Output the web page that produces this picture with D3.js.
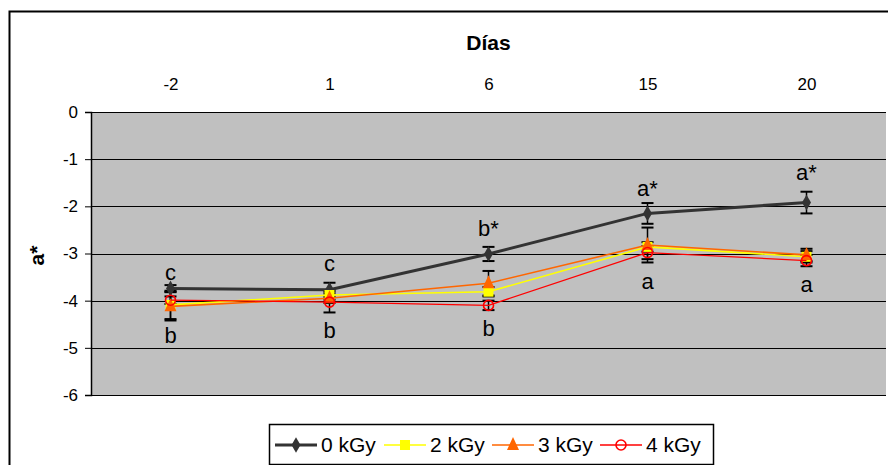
<!DOCTYPE html>
<html>
<head>
<meta charset="utf-8">
<script src="https://cdn.jsdelivr.net/npm/d3@7"></script>
<style>
  body { margin: 0; background: #fff; }
  svg { font-family: "Liberation Sans", Arial, sans-serif; }
</style>
</head>
<body>
<div id="chart"></div>
<script>
// Datos
const days = ["-2", "1", "6", "15", "20"];
const kGy0 = [-3.74, -3.77, -3.01, -2.15, -1.92];
const kGy2 = [-4.09, -3.88, -3.81, -2.86, -3.07];
const kGy3 = [-4.12, -3.95, -3.63, -2.82, -3.03];
const kGy4 = [-3.99, -4.03, -4.10, -2.98, -3.15];
const err0 = [0.07, 0.15, 0.15, 0.22, 0.23];
const err2 = [0.30, 0.10, 0.10, 0.10, 0.12];
const err3 = [0.30, 0.10, 0.26, 0.37, 0.13];
const err4 = [0.08, 0.22, 0.10, 0.14, 0.12];
const upperLetters = ["c", "c", "b*", "a*", "a*"];
const upperLetterY = [-3.56, -3.37, -2.63, -1.78, -1.44];
const lowerLetters = ["b", "b", "b", "a", "a"];
const lowerLetterY = [-4.89, -4.79, -4.75, -3.75, -3.81];
const yTicks = [0, -1, -2, -3, -4, -5, -6];

const series = [
  { name: "0 kGy", values: kGy0, err: err0, color: "#333333", width: 3, marker: "diamond" },
  { name: "2 kGy", values: kGy2, err: err2, color: "#ffff00", width: 1.6, marker: "square" },
  { name: "3 kGy", values: kGy3, err: err3, color: "#ff6600", width: 1.6, marker: "triangle" },
  { name: "4 kGy", values: kGy4, err: err4, color: "#ff0000", width: 1.3, marker: "circle" }
];

const W = 888, H = 465;
const plot = { left: 91, right: 886, top: 112, bottom: 395 };

const svg = d3.select("#chart").append("svg")
  .attr("width", W).attr("height", H);

// marco exterior
svg.append("rect")
  .attr("x", 9.5).attr("y", 11.5)
  .attr("width", W).attr("height", H)
  .attr("fill", "#fff").attr("stroke", "#000").attr("stroke-width", 2);

const x = d3.scalePoint().domain(days).range([plot.left, plot.right]).padding(0.5);
const y = d3.scaleLinear().domain([-6, 0]).range([plot.bottom, plot.top]);

// área de trazado
svg.append("rect")
  .attr("x", plot.left).attr("y", plot.top)
  .attr("width", plot.right - plot.left).attr("height", plot.bottom - plot.top)
  .attr("fill", "#c0c0c0");

// líneas de cuadrícula
svg.append("g")
  .selectAll("line")
  .data(yTicks)
  .join("line")
  .attr("x1", plot.left).attr("x2", plot.right)
  .attr("y1", d => Math.round(y(d)) + 0.5).attr("y2", d => Math.round(y(d)) + 0.5)
  .attr("stroke", "#000").attr("stroke-width", 1);

// eje Y
const yAxis = svg.append("g")
  .attr("transform", `translate(${plot.left},0)`)
  .call(d3.axisLeft(y).tickValues(yTicks).tickSize(6).tickPadding(7).tickFormat(d => String(d)));
yAxis.select(".domain").attr("stroke", "#000").attr("stroke-width", 1.5);
yAxis.selectAll("text").attr("font-size", 17).attr("fill", "#000")
  .attr("font-family", "Liberation Sans, Arial, sans-serif");

// eje X arriba (solo etiquetas)
const xAxis = svg.append("g")
  .attr("transform", `translate(0,${plot.top})`)
  .call(d3.axisTop(x).tickSize(0).tickPadding(22));
xAxis.select(".domain").remove();
xAxis.selectAll("text").attr("font-size", 17).attr("fill", "#000")
  .attr("font-family", "Liberation Sans, Arial, sans-serif");

// títulos
svg.append("text")
  .attr("x", (plot.left + plot.right) / 2).attr("y", 50)
  .attr("text-anchor", "middle").attr("font-size", 21).attr("font-weight", "bold")
  .text("Días");

svg.append("text")
  .attr("transform", `translate(44,${(plot.top + plot.bottom) / 2 + 2}) rotate(-90)`)
  .attr("text-anchor", "middle").attr("font-size", 21).attr("font-weight", "bold")
  .text("a*");

// barras de error
const capW = 6;
series.forEach(s => {
  const g = svg.append("g").attr("class", "errbars");
  s.values.forEach((v, i) => {
    const cx = x(days[i]);
    const y1 = y(v + s.err[i]), y2 = y(v - s.err[i]);
    g.append("line").attr("x1", cx).attr("x2", cx).attr("y1", y1).attr("y2", y2)
      .attr("stroke", "#000").attr("stroke-width", 1.5);
    [y1, y2].forEach(yy => {
      g.append("line").attr("x1", cx - capW).attr("x2", cx + capW).attr("y1", yy).attr("y2", yy)
        .attr("stroke", "#000").attr("stroke-width", 2);
    });
  });
});

const line = d3.line().x((d, i) => x(days[i])).y(d => y(d));

function drawMarker(g, type, color, cx, cy) {
  if (type === "diamond") {
    g.append("path").attr("d", d3.symbol(d3.symbolDiamond, 70)())
      .attr("transform", `translate(${cx},${cy})`)
      .attr("fill", color);
  } else if (type === "square") {
    g.append("rect").attr("x", cx - 5).attr("y", cy - 5).attr("width", 10).attr("height", 10)
      .attr("fill", color);
  } else if (type === "triangle") {
    g.append("path").attr("d", `M${cx},${cy - 8}L${cx + 6},${cy + 5}L${cx - 6},${cy + 5}Z`)
      .attr("fill", color);
  } else {
    g.append("circle").attr("cx", cx).attr("cy", cy).attr("r", 5)
      .attr("fill", "none").attr("stroke", color).attr("stroke-width", 1.6);
  }
}

// series
series.forEach(s => {
  const g = svg.append("g");
  g.append("path").datum(s.values).attr("d", line)
    .attr("fill", "none").attr("stroke", s.color).attr("stroke-width", s.width);
  s.values.forEach((v, i) => drawMarker(g, s.marker, s.color, x(days[i]), y(v)));
});

// letras de significancia
svg.append("g").selectAll("text")
  .data(upperLetters)
  .join("text")
  .attr("x", (d, i) => x(days[i])).attr("y", (d, i) => y(upperLetterY[i]))
  .attr("text-anchor", "middle").attr("font-size", 22)
  .text(d => d);
svg.append("g").selectAll("text")
  .data(lowerLetters)
  .join("text")
  .attr("x", (d, i) => x(days[i])).attr("y", (d, i) => y(lowerLetterY[i]))
  .attr("text-anchor", "middle").attr("font-size", 22)
  .text(d => d);

// leyenda
const legend = svg.append("g");
legend.append("rect")
  .attr("x", 269.5).attr("y", 424.5).attr("width", 444).attr("height", 40)
  .attr("fill", "#fff").attr("stroke", "#000").attr("stroke-width", 1.5);
const legendX = [275, 384, 492, 600];
series.forEach((s, i) => {
  const lx = legendX[i], ly = 445;
  legend.append("line").attr("x1", lx).attr("x2", lx + 42).attr("y1", ly).attr("y2", ly)
    .attr("stroke", s.color).attr("stroke-width", s.width);
  drawMarker(legend, s.marker, s.color, lx + 21, ly);
  legend.append("text").attr("x", lx + 46).attr("y", ly + 7)
    .attr("font-size", 21).text(s.name);
});
</script>
</body>
</html>
